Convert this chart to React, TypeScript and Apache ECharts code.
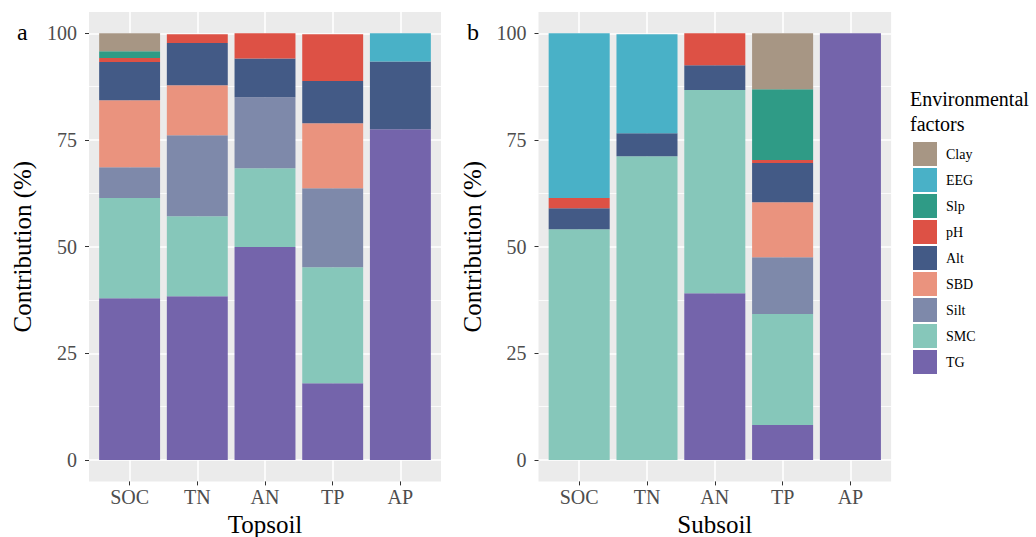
import React, { useEffect, useRef } from "react";
import * as echarts from "echarts";

const categories = ["SOC", "TN", "AN", "TP", "AP"];
const factors = ["TG", "SMC", "Silt", "SBD", "Alt", "pH", "Slp", "EEG", "Clay"];
const legendOrder = ["Clay", "EEG", "Slp", "pH", "Alt", "SBD", "Silt", "SMC", "TG"];
const colors: Record<string, string> = {
  Clay: "#A79684",
  EEG: "#49B1C7",
  Slp: "#2F9B86",
  pH: "#DD5145",
  Alt: "#435A86",
  SBD: "#EA937E",
  Silt: "#7E89AA",
  SMC: "#86C7BA",
  TG: "#7464AB",
};

// Topsoil contributions (%)
const topTG = [37.9, 38.4, 49.9, 18.0, 77.5];
const topSMC = [23.5, 18.7, 18.5, 27.2, 0];
const topSilt = [7.2, 19.0, 16.6, 18.5, 0];
const topSBD = [15.7, 11.7, 0, 15.2, 0];
const topAlt = [9.0, 9.9, 9.1, 9.9, 15.9];
const topPH = [0.9, 2.1, 5.9, 11.0, 0];
const topSlp = [1.6, 0, 0, 0, 0];
const topEEG = [0, 0, 0, 0, 6.6];
const topClay = [4.2, 0, 0, 0, 0];

// Subsoil contributions (%)
const subTG = [0, 0, 39.1, 8.2, 100];
const subSMC = [54.1, 71.2, 47.6, 26.0, 0];
const subSilt = [0, 0, 0, 13.3, 0];
const subSBD = [0, 0, 0, 12.9, 0];
const subAlt = [4.9, 5.4, 5.8, 9.2, 0];
const subPH = [2.4, 0, 7.5, 0.7, 0];
const subSlp = [0, 0, 0, 16.6, 0];
const subEEG = [38.6, 23.2, 0, 0, 0];
const subClay = [0, 0, 0, 13.1, 0];

const topData: Record<string, number[]> = {
  TG: topTG, SMC: topSMC, Silt: topSilt, SBD: topSBD, Alt: topAlt,
  pH: topPH, Slp: topSlp, EEG: topEEG, Clay: topClay,
};
const subData: Record<string, number[]> = {
  TG: subTG, SMC: subSMC, Silt: subSilt, SBD: subSBD, Alt: subAlt,
  pH: subPH, Slp: subSlp, EEG: subEEG, Clay: subClay,
};

const FONT = "'Liberation Serif', 'Times New Roman', serif";

export default function App() {
  const ref = useRef<HTMLDivElement>(null);
  useEffect(() => {
    if (!ref.current) return;
    const chart = echarts.init(ref.current, undefined, { renderer: "svg" });

    const panelTop = 12;
    const panelH = 469.4;
    const dataTop = 33.3;
    const dataH = 426.7;
    const panels = [
      { left: 89, width: 352, title: "Topsoil", data: topData, stack: "top" },
      { left: 538.5, width: 352.6, title: "Subsoil", data: subData, stack: "sub" },
    ];
    const grids: any[] = [];
    const xAxes: any[] = [];
    const yAxes: any[] = [];
    const series: any[] = [];

    panels.forEach((p) => {
      // ggplot discrete expansion: 0.6 units each side of 5 categories -> 5.2 units
      const unit = p.width / 5.2;
      const inL = p.left + unit * 0.1;
      const inW = p.width - unit * 0.2;
      const base = grids.length;
      // A: grey panel background
      grids.push({ left: p.left, top: panelTop, width: p.width, height: panelH, show: true, backgroundColor: "#EBEBEB", borderWidth: 0, outerBoundsMode: "none", containLabel: false });
      xAxes.push({ type: "category", gridIndex: base, data: categories, show: false });
      yAxes.push({ type: "value", gridIndex: base, min: 0, max: 1, show: false });
      // B: category axis with vertical grid lines over full panel height
      grids.push({ left: inL, top: panelTop, width: inW, height: panelH, show: false, outerBoundsMode: "none", containLabel: false });
      xAxes.push({
        type: "category", gridIndex: base + 1, data: categories,
        axisLine: { show: false },
        axisTick: { show: true, alignWithLabel: true, length: 4, lineStyle: { color: "#333333", width: 1 } },
        axisLabel: { color: "#4D4D4D", fontSize: 20, fontFamily: FONT, margin: 6 },
        splitLine: { show: true, alignWithLabel: true, lineStyle: { color: "#FFFFFF", width: 1.6 } },
        name: p.title, nameLocation: "middle", nameGap: 27,
        nameTextStyle: { color: "#000", fontSize: 25, fontFamily: FONT, verticalAlign: "top" },
      });
      yAxes.push({ type: "value", gridIndex: base + 1, min: 0, max: 1, show: false });
      // C: value axis with horizontal grid lines over full panel width
      grids.push({ left: p.left, top: dataTop, width: p.width, height: dataH, show: false, outerBoundsMode: "none", containLabel: false });
      xAxes.push({ type: "category", gridIndex: base + 2, data: categories, show: false });
      yAxes.push({
        type: "value", gridIndex: base + 2, min: 0, max: 100, interval: 25,
        axisLine: { show: false },
        axisTick: { show: true, length: 4, lineStyle: { color: "#333333", width: 1 } },
        axisLabel: { color: "#4D4D4D", fontSize: 20, fontFamily: FONT, margin: 12 },
        splitLine: { show: true, lineStyle: { color: "#FFFFFF", width: 1.6 } },
        minorTick: { show: false, splitNumber: 2 },
        minorSplitLine: { show: true, lineStyle: { color: "#FFFFFF", width: 0.8 } },
        name: "Contribution (%)", nameLocation: "middle", nameGap: 54,
        nameTextStyle: { color: "#000", fontSize: 25, fontFamily: FONT },
      });
      // D: bars
      grids.push({ left: inL, top: dataTop, width: inW, height: dataH, show: false, outerBoundsMode: "none", containLabel: false });
      xAxes.push({ type: "category", gridIndex: base + 3, data: categories, show: false });
      yAxes.push({ type: "value", gridIndex: base + 3, min: 0, max: 100, show: false });
      factors.forEach((f) => {
        series.push({
          type: "bar", name: f, stack: p.stack,
          xAxisIndex: base + 3, yAxisIndex: base + 3,
          data: p.data[f], barWidth: "90%",
          itemStyle: { color: colors[f] },
          emphasis: { disabled: true },
          silent: true,
        });
      });
    });

    chart.setOption({
      animation: false,
      backgroundColor: "#FFFFFF",
      textStyle: { fontFamily: FONT },
      grid: grids,
      xAxis: xAxes,
      yAxis: yAxes,
      series,
      legend: {
        data: legendOrder,
        orient: "vertical",
        left: 913, top: 142, padding: 0,
        itemWidth: 24, itemHeight: 24, itemGap: 2,
        icon: "rect",
        selectedMode: false,
        textStyle: { fontSize: 14, color: "#000", fontFamily: FONT, padding: [0, 0, 0, 4] },
      },
      graphic: [
        { type: "text", left: 17, top: 20, style: { text: "a", fontSize: 24, fill: "#000", fontFamily: FONT } },
        { type: "text", left: 467, top: 20, style: { text: "b", fontSize: 24, fill: "#000", fontFamily: FONT } },
        {
          type: "text", left: 910, top: 86,
          style: { text: "Environmental\nfactors", fontSize: 20, lineHeight: 25, fill: "#000", fontFamily: FONT },
        },
      ],
    });
    return () => chart.dispose();
  }, []);
  return (
    <div
      ref={ref}
      style={{ position: "fixed", left: 0, top: 0, width: 1036, height: 537, background: "#fff" }}
    />
  );
}
